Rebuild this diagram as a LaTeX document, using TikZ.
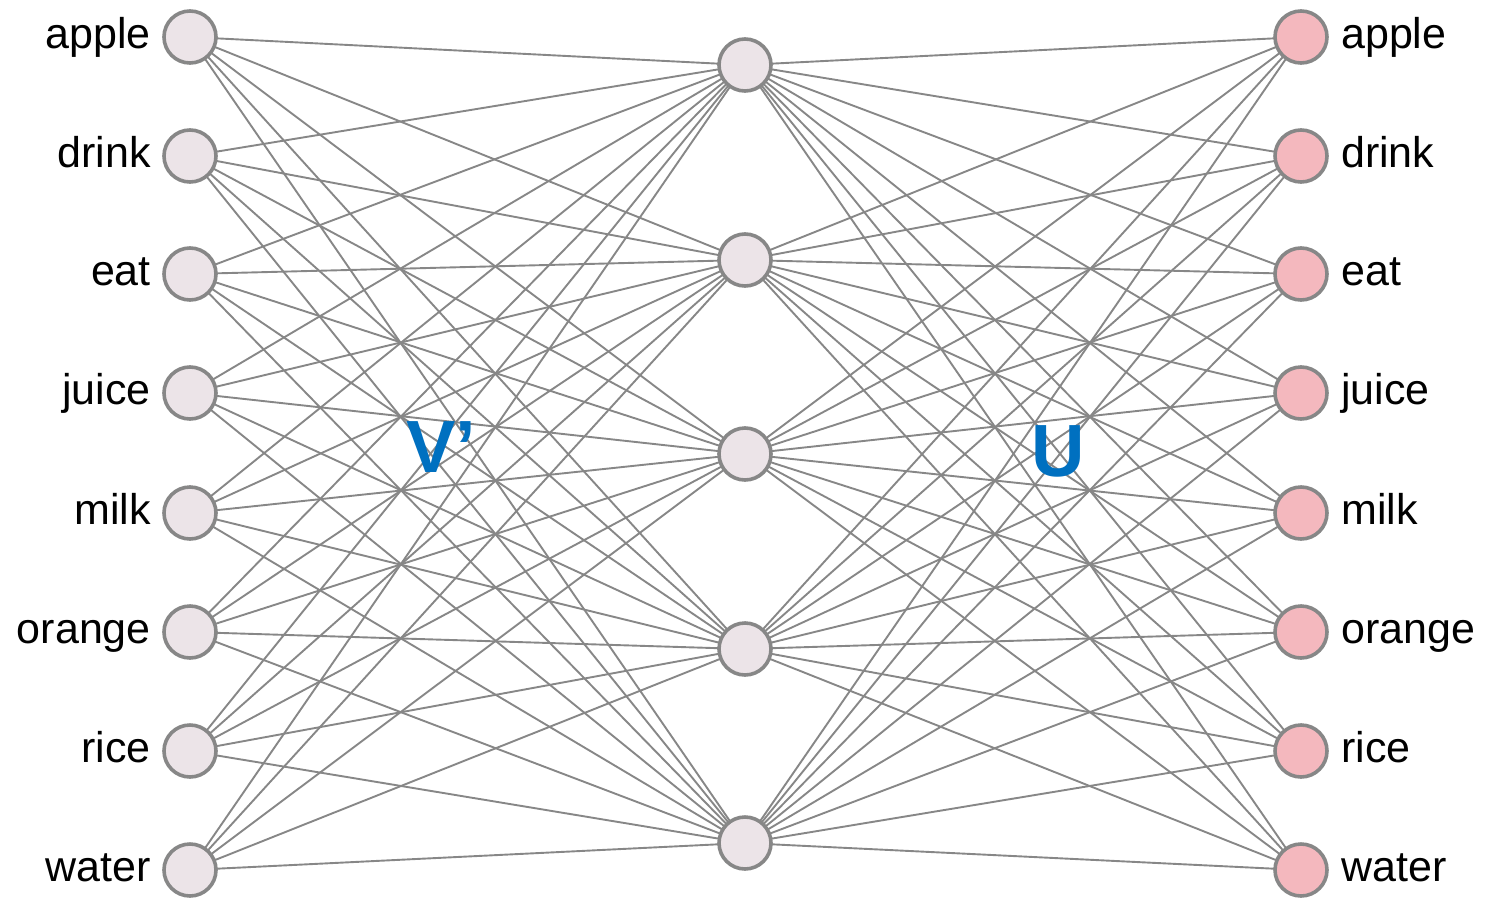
\documentclass[tikz,border=0pt]{standalone}
\usepackage{fontspec}
\setmainfont{Liberation Sans}
\usetikzlibrary{backgrounds}
\begin{document}
\begin{tikzpicture}[x=1pt,y=-1pt,
  neuron/.style={circle,draw=black!47,line width=3.6pt,minimum size=52pt,inner sep=0pt},
  inl/.style={neuron,fill=inleft},
  outl/.style={neuron,fill=outpink},
  link/.style={draw=black!47,line width=1.9pt},
  word/.style={font=\fontsize{43}{50}\selectfont,inner sep=0pt},
  mat/.style={font=\fontsize{74}{80}\selectfont\bfseries,text=matblue,inner sep=0pt}]
\definecolor{inleft}{HTML}{ECE4E8}
\definecolor{outpink}{HTML}{F4B8BE}
\definecolor{matblue}{HTML}{0070C0}
\useasboundingbox (0,0) rectangle (1489,900);
\foreach \i/\y in {1/37,2/156,3/274,4/393,5/513,6/632,7/751,8/870}{
  \node[inl] (l\i) at (190,\y) {};
  \node[outl] (r\i) at (1301,\y) {};
}
\foreach \j/\y in {1/65,2/260,3/454,4/649,5/843}{
  \node[inl] (m\j) at (745,\y) {};
}
\begin{scope}[on background layer]
\foreach \i in {1,...,8}{
  \foreach \j in {1,...,5}{
    \draw[link] (l\i.center) -- (m\j.center);
    \draw[link] (m\j.center) -- (r\i.center);
  }
}
\end{scope}
\foreach \i/\w/\y in {1/apple/37,2/drink/156,3/eat/274,4/juice/393,5/milk/513,6/orange/632,7/rice/751,8/water/870}{
  \node[word,anchor=base east] (lt\i) at (151,\y+11) {\w};
  \node[word,anchor=base west] (rt\i) at (1341,\y+11) {\w};
}
\node[mat,anchor=base] (vlab) at (441,472) {V’};
\node[mat,anchor=base] (ulab) at (1058,476) {U};
\end{tikzpicture}
\end{document}
